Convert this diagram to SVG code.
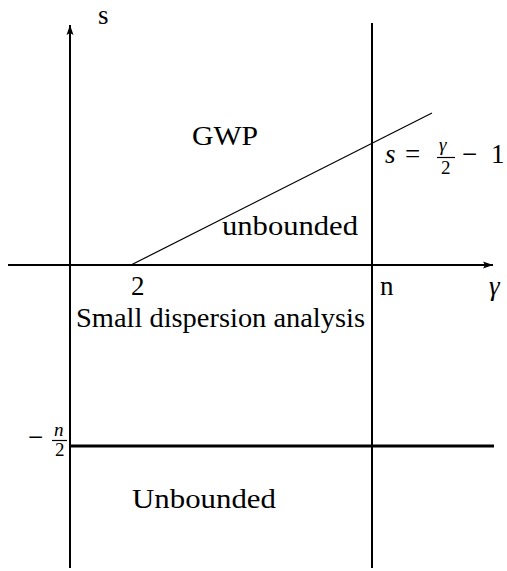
<svg xmlns="http://www.w3.org/2000/svg" width="507" height="571" viewBox="0 0 507 571">
<defs>
<style>
text{font-family:'Liberation Serif','DejaVu Serif',serif;fill:#000}
.t{font-size:27px}
.m{font-style:italic}
.ax{stroke:#000;stroke-width:2;fill:none}
</style>
<marker id="arr" markerWidth="12" markerHeight="8" refX="10" refY="4" orient="auto" markerUnits="userSpaceOnUse">
<path d="M0,0.5 L10,4 L0,7.5 L2,4 Z" fill="#000"/>
</marker>
</defs>
<rect width="507" height="571" fill="#fff"/>
<g id="connectors">
<line class="ax" x1="70" y1="568" x2="70" y2="25" marker-end="url(#arr)"/>
<line class="ax" x1="8" y1="265" x2="493" y2="265" marker-end="url(#arr)"/>
<line class="ax" x1="372" y1="23" x2="372" y2="568"/>
<line x1="70" y1="446" x2="494" y2="446" stroke="#000" stroke-width="3"/>
<line x1="131" y1="265" x2="432" y2="113" stroke="#000" stroke-width="1.2"/>
</g>
<g id="labels">
<text id="s-label" class="t" x="98" y="24">s</text>
<text id="gwp" class="t" x="192" y="145" textLength="66" lengthAdjust="spacingAndGlyphs">GWP</text>
<g id="formula">
<text class="m" x="385" y="163" font-size="27">s</text>
<text x="405" y="163" font-size="27">=</text>
<text class="m" x="439" y="151" font-size="19">γ</text>
<line x1="437" y1="157.5" x2="455" y2="157.5" stroke="#000" stroke-width="1.2"/>
<text x="441" y="174" font-size="19">2</text>
<text x="462" y="163" font-size="27">−</text>
<text x="491" y="163" font-size="27">1</text>
</g>
<text id="unbounded-upper" class="t" x="222" y="235" textLength="136" lengthAdjust="spacingAndGlyphs">unbounded</text>
<text id="two" class="t" x="131" y="295">2</text>
<text id="n-label" class="t" x="380" y="295">n</text>
<text id="gamma-label" class="m" x="489" y="295" font-size="27">γ</text>
<text id="small-dispersion" class="t" x="76" y="327" textLength="289" lengthAdjust="spacingAndGlyphs">Small dispersion analysis</text>
<g id="minus-n-half">
<text x="28" y="446" font-size="27">−</text>
<text class="m" x="54" y="436" font-size="19">n</text>
<line x1="52" y1="440.5" x2="67" y2="440.5" stroke="#000" stroke-width="1.2"/>
<text x="55" y="456" font-size="19">2</text>
</g>
<text id="unbounded-lower" class="t" x="132" y="508" textLength="144" lengthAdjust="spacingAndGlyphs">Unbounded</text>
</g>
</svg>
